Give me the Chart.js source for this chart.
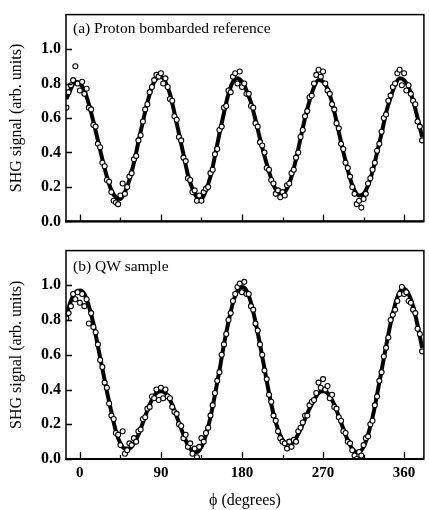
<!DOCTYPE html>
<html>
<head>
<meta charset="utf-8">
<script src="https://cdn.jsdelivr.net/npm/chart.js@4/dist/chart.umd.min.js"></script>
<style>
  html, body { margin: 0; padding: 0; background: #fff; }
  #wrap { position: relative; width: 429px; height: 510px; background: #fff; }
  canvas { position: absolute; left: 0; }
  #c1 { top: 0; }
  #c2 { top: 236px; }
</style>
</head>
<body>
<div id="wrap">
  <canvas id="c1" width="429" height="236"></canvas>
  <canvas id="c2" width="429" height="274"></canvas>
</div>
<script>
// ---------- data ----------
const xTickValues = [0, 90, 180, 270, 360];
const xMarkTicks = [0, 45, 90, 135, 180, 225, 270, 315, 360];
const yTickValues = [0, 0.2, 0.4, 0.6, 0.8, 1.0];

const panelLabels = ['(a) Proton bombarded reference', '(b) QW sample'];

// measured angles (degrees)
const phiData = [
  -15,-12.5,-10,-7.5, -5,-2.5,0,2.5, 5,7.5,10,12.5, 15,17.5,20,22.5, 25,27.5,30,32.5,
  35,37.5,40,42.5, 45,47.5,50,52.5, 55,57.5,60,62.5, 65,67.5,70,72.5, 75,77.5,80,82.5,
  85,87.5,90,92.5, 95,97.5,100,102.5, 105,107.5,110,112.5, 115,117.5,120,122.5, 125,127.5,130,132.5,
  135,137.5,140,142.5, 145,147.5,150,152.5, 155,157.5,160,162.5, 165,167.5,170,172.5, 175,177.5,180,182.5,
  185,187.5,190,192.5, 195,197.5,200,202.5, 205,207.5,210,212.5, 215,217.5,220,222.5, 225,227.5,230,232.5,
  235,237.5,240,242.5, 245,247.5,250,252.5, 255,257.5,260,262.5, 265,267.5,270,272.5, 275,277.5,280,282.5,
  285,287.5,290,292.5, 295,297.5,300,302.5, 305,307.5,310,312.5, 315,317.5,320,322.5, 325,327.5,330,332.5,
  335,337.5,340,342.5, 345,347.5,350,352.5, 355,357.5,360,362.5, 365,367.5,370,372.5, 375,377.5,380
];

// (a) proton bombarded reference - measured SHG signal
const refData = [
  0.66,0.75,0.79,0.82, 0.90,0.80,0.76,0.81, 0.74,0.77,0.66,0.65, 0.56,0.55,0.45,0.43, 0.34,0.32,0.24,0.23,
  0.17,0.12,0.11,0.10, 0.15,0.22,0.16,0.20, 0.26,0.28,0.36,0.38, 0.47,0.50,0.58,0.65, 0.68,0.75,0.78,0.82,
  0.85,0.84,0.86,0.80, 0.83,0.78,0.71,0.70, 0.61,0.59,0.49,0.47, 0.37,0.35,0.25,0.24, 0.17,0.18,0.12,0.15,
  0.12,0.17,0.19,0.20, 0.28,0.30,0.39,0.42, 0.53,0.55,0.66,0.67, 0.76,0.75,0.84,0.86, 0.80,0.87,0.78,0.80,
  0.74,0.74,0.67,0.66, 0.57,0.55,0.46,0.44, 0.40,0.31,0.30,0.24, 0.22,0.16,0.18,0.14, 0.17,0.15,0.21,0.22,
  0.28,0.30,0.37,0.40, 0.49,0.53,0.61,0.64, 0.72,0.73,0.80,0.85, 0.88,0.84,0.87,0.80, 0.76,0.74,0.68,0.65,
  0.57,0.54,0.45,0.42, 0.34,0.31,0.26,0.20, 0.16,0.10,0.12,0.08, 0.13,0.16,0.22,0.25, 0.30,0.34,0.41,0.45,
  0.52,0.60,0.62,0.70, 0.73,0.78,0.80,0.86, 0.88,0.79,0.86,0.76, 0.79,0.74,0.70,0.68, 0.58,0.55,0.47
];

// (b) QW sample - measured SHG signal
const qwData = [
  0.81,0.84,0.88,0.95, 0.92,0.96,0.90,0.95, 0.88,0.92,0.78,0.84, 0.76,0.73,0.66,0.57, 0.53,0.44,0.41,0.32,
  0.25,0.23,0.15,0.14, 0.08,0.16,0.03,0.05, 0.09,0.08,0.12,0.10, 0.16,0.17,0.23,0.24, 0.29,0.30,0.36,0.35,
  0.40,0.34,0.41,0.35, 0.40,0.36,0.35,0.30, 0.27,0.26,0.20,0.19, 0.12,0.14,0.07,0.09, 0.03,0.06,0.01,0.07,
  0.12,0.10,0.15,0.18, 0.25,0.31,0.38,0.45, 0.50,0.60,0.66,0.72, 0.80,0.84,0.91,0.95, 0.99,1.01,0.96,1.02,
  0.95,0.95,0.88,0.86, 0.78,0.74,0.66,0.60, 0.51,0.46,0.37,0.33, 0.25,0.22,0.16,0.12, 0.10,0.09,0.06,0.10,
  0.07,0.11,0.10,0.16, 0.18,0.21,0.25,0.25, 0.31,0.33,0.34,0.38, 0.44,0.41,0.46,0.40, 0.42,0.35,0.37,0.30,
  0.29,0.24,0.22,0.16, 0.15,0.10,0.09,0.05, 0.02,0.00,0.04,0.02, 0.08,0.12,0.13,0.20, 0.22,0.31,0.36,0.45,
  0.50,0.59,0.64,0.70, 0.80,0.83,0.86,0.91, 0.95,0.99,0.95,0.96, 0.91,0.90,0.86,0.84, 0.75,0.72,0.62
];

// fitted curves, sampled every 5 degrees
const phiFit = [
  -15,-10,-5,0,5,10,15,20,25,30,35,40,45,50,55,60,65,70,75,80,
  85,90,95,100,105,110,115,120,125,130,135,140,145,150,155,160,165,170,175,180,
  185,190,195,200,205,210,215,220,225,230,235,240,245,250,255,260,265,270,275,280,
  285,290,295,300,305,310,315,320,325,330,335,340,345,350,355,360,365,370,375,380
];
const refFit = [
  0.71,0.77,0.81,0.80,0.76,0.68,0.58,0.47,0.36,0.26,0.18,0.14,0.13,0.17,0.24,0.34,0.46,0.58,0.69,0.78,
  0.83,0.84,0.81,0.74,0.63,0.51,0.39,0.27,0.19,0.14,0.13,0.18,0.26,0.38,0.51,0.63,0.74,0.81,0.83,0.81,
  0.76,0.69,0.59,0.48,0.38,0.29,0.21,0.17,0.16,0.19,0.26,0.36,0.48,0.60,0.70,0.78,0.82,0.81,0.77,0.69,
  0.58,0.46,0.35,0.25,0.18,0.15,0.16,0.21,0.29,0.40,0.51,0.63,0.72,0.79,0.83,0.82,0.78,0.70,0.60,0.49
];
const qwFit = [
  0.83,0.91,0.96,0.97,0.95,0.88,0.78,0.65,0.52,0.39,0.27,0.16,0.09,0.06,0.06,0.09,0.14,0.21,0.28,0.34,
  0.38,0.39,0.38,0.34,0.28,0.21,0.14,0.08,0.045,0.04,0.07,0.14,0.24,0.37,0.51,0.66,0.79,0.90,0.97,0.99,
  0.97,0.90,0.79,0.66,0.52,0.38,0.26,0.17,0.11,0.09,0.09,0.12,0.17,0.23,0.29,0.34,0.38,0.39,0.38,0.34,
  0.28,0.21,0.14,0.08,0.045,0.04,0.07,0.14,0.24,0.37,0.51,0.65,0.78,0.89,0.96,0.98,0.95,0.88,0.77,0.64
];

// ---------- helpers ----------
const SERIF = '"Liberation Serif", "Times New Roman", serif';
const toXY = (xs, ys) => xs.map((v, i) => ({ x: v, y: ys[i] }));

const framePlugin = {
  id: 'frame',
  afterDatasetsDraw(chart, args, opts) {
    const { ctx, chartArea: a, scales } = chart;
    const x = scales.x, y = scales.y;
    ctx.save();
    ctx.strokeStyle = '#000';
    ctx.lineWidth = 1.5;
    ctx.strokeRect(a.left, a.top, a.right - a.left, a.bottom - a.top);
    // heavier bottom axis line
    ctx.lineWidth = 2.2;
    ctx.beginPath();
    ctx.moveTo(a.left - 1, a.bottom);
    ctx.lineTo(a.right, a.bottom);
    ctx.stroke();
    ctx.lineWidth = 1.3;
    ctx.beginPath();
    xMarkTicks.forEach(v => {
      const px = Math.round(x.getPixelForValue(v)) + 0.5;
      const len = (v % 90 === 0) ? 7 : 4;
      ctx.moveTo(px, a.bottom);
      ctx.lineTo(px, a.bottom - len);
    });
    yTickValues.forEach(v => {
      const py = Math.round(y.getPixelForValue(v)) + 0.5;
      ctx.moveTo(a.left, py);
      ctx.lineTo(a.left + 6, py);
    });
    ctx.stroke();
    ctx.fillStyle = '#000';
    ctx.font = '15.5px ' + SERIF;
    ctx.textBaseline = 'alphabetic';
    ctx.textAlign = 'left';
    ctx.fillText(opts.label, a.left + 7, a.top + opts.dy);
    ctx.restore();
  }
};

function makeChart(id, data, fit, label, dy, showX) {
  return new Chart(document.getElementById(id), {
    type: 'scatter',
    data: {
      datasets: [
        {
          type: 'scatter',
          data: toXY(phiData, data),
          pointRadius: 2.5,
          pointBorderWidth: 1.1,
          pointBackgroundColor: '#fff',
          pointBorderColor: '#000',
          order: 1
        },
        {
          type: 'line',
          data: toXY(phiFit, fit),
          borderColor: '#000',
          borderWidth: 4,
          pointRadius: 0,
          tension: 0.4,
          cubicInterpolationMode: 'monotone',
          fill: false,
          order: 2
        }
      ]
    },
    options: {
      responsive: false,
      animation: false,
      events: [],
      layout: { padding: { top: showX ? 2 : 10, right: 1, left: 0, bottom: 0 } },
      plugins: {
        legend: { display: false },
        tooltip: { enabled: false },
        frame: { label: label, dy: dy }
      },
      scales: {
        x: {
          type: 'linear',
          min: -15.4,
          max: 382,
          grid: { display: false, drawTicks: false },
          border: { display: false },
          afterBuildTicks: s => { s.ticks = xTickValues.map(v => ({ value: v })); },
          afterFit: s => { s.height = showX ? 51 : 6; },
          ticks: {
            display: showX,
            padding: 5,
            color: '#000',
            font: { family: SERIF, size: 15, weight: 'bold' },
            callback: v => String(v)
          },
          title: {
            display: showX,
            text: 'ϕ (degrees)',
            color: '#000',
            font: { family: SERIF, size: 16 },
            padding: { top: 0, bottom: 0 }
          }
        },
        y: {
          min: 0,
          max: 1.2,
          grid: { display: false, drawTicks: false },
          border: { display: false },
          afterBuildTicks: s => { s.ticks = yTickValues.map(v => ({ value: v })); },
          afterFit: s => { s.width = 66; },
          ticks: {
            padding: 5,
            color: '#000',
            font: { family: SERIF, size: 16, weight: 'bold' },
            callback: v => Number(v).toFixed(1)
          },
          title: {
            display: true,
            text: 'SHG signal (arb. units)',
            color: '#000',
            font: { family: SERIF, size: 16 },
            padding: { top: 7, bottom: 0 }
          }
        }
      }
    },
    plugins: [framePlugin]
  });
}

makeChart('c1', refData, refFit, panelLabels[0], 18, false);
makeChart('c2', qwData, qwFit, panelLabels[1], 20, true);
</script>
</body>
</html>
